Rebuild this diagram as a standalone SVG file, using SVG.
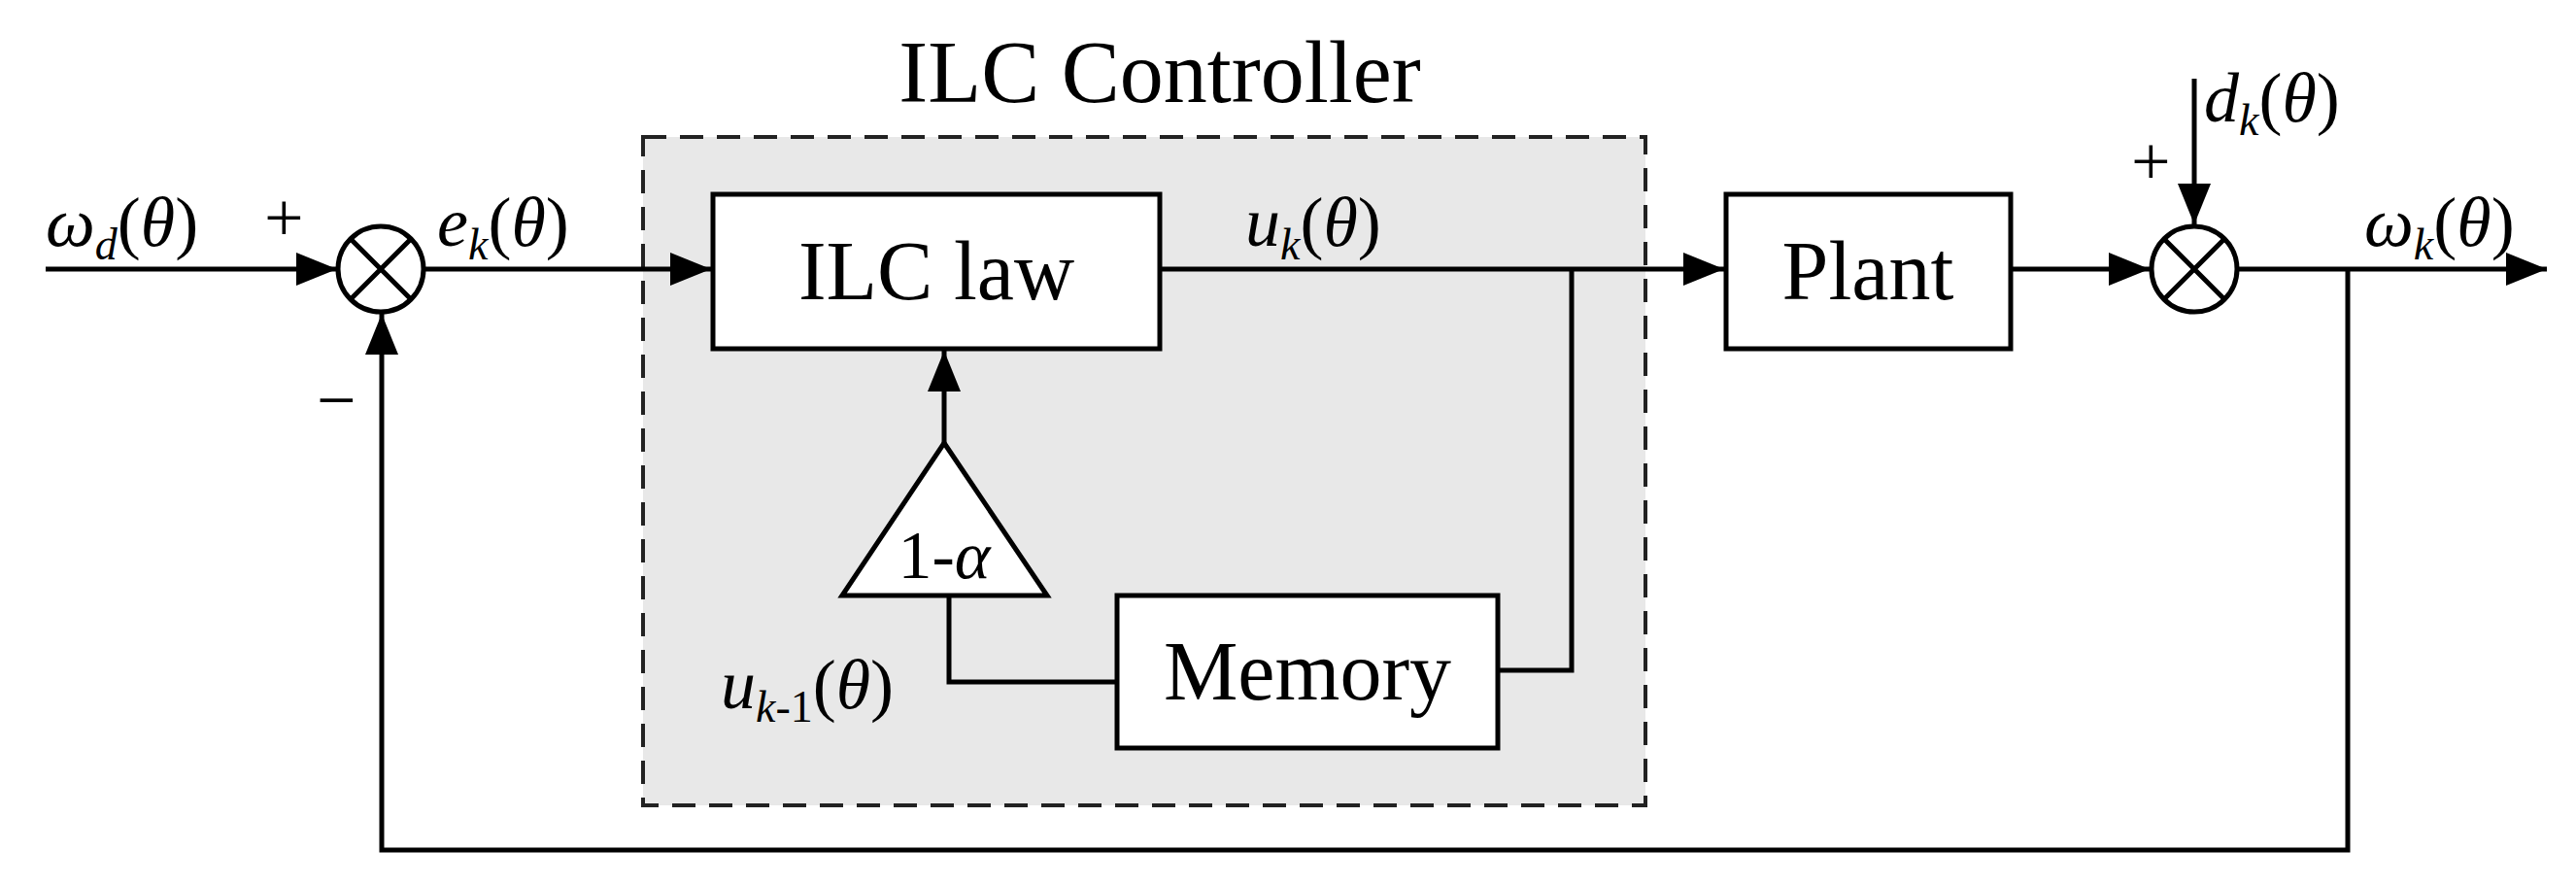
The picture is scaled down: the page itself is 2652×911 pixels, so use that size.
<svg xmlns="http://www.w3.org/2000/svg" width="2652" height="911" viewBox="0 0 2652 911">
<style>
.w{fill:none;stroke:#000;stroke-width:5}
.b{fill:#fff;stroke:#000;stroke-width:5}
.t{font-family:'Liberation Serif','Times New Roman',serif;fill:#000}
.i{font-family:'Liberation Serif','Times New Roman',serif;font-style:italic;fill:#000;font-size:72px}
</style>
<defs>
<marker id="a" markerUnits="userSpaceOnUse" markerWidth="44" markerHeight="34" refX="42" refY="17" orient="auto"><path d="M0,0 L42,17 L0,34 Z" fill="#000"/></marker>
</defs>
<rect width="2652" height="911" fill="#fff"/>
<g id="ilc-controller">
<rect x="662" y="141" width="1032" height="688" fill="#e8e8e8" stroke="#222" stroke-width="4" stroke-dasharray="24,14"/>
<text class="t" x="1194" y="105" font-size="90" text-anchor="middle">ILC Controller</text>
</g>
<g id="connectors">
<path class="w" d="M47,277 H347" marker-end="url(#a)"/>
<path class="w" d="M436,277 H732" marker-end="url(#a)"/>
<path class="w" d="M1194,277 H1775" marker-end="url(#a)"/>
<path class="w" d="M972,456 V361" marker-end="url(#a)"/>
<path class="w" d="M977,613 V702 H1150"/>
<path class="w" d="M1542,690 H1618 V277"/>
<path class="w" d="M2070,277 H2213" marker-end="url(#a)"/>
<path class="w" d="M2259,81 V231" marker-end="url(#a)"/>
<path class="w" d="M2303,277 H2622" marker-end="url(#a)"/>
<path class="w" d="M2417,277 V875 H393 V323" marker-end="url(#a)"/>
</g>
<g id="sum1">
<circle class="b" cx="392" cy="277" r="44"/>
<path class="w" d="M361,246 L423,308 M423,246 L361,308"/>
</g>
<g id="sum2">
<circle class="b" cx="2259" cy="277" r="44"/>
<path class="w" d="M2228,246 L2290,308 M2290,246 L2228,308"/>
</g>
<g id="ilc-law">
<rect class="b" x="734" y="200" width="460" height="159"/>
<text class="t" x="964" y="308" font-size="86" text-anchor="middle">ILC law</text>
</g>
<g id="gain">
<path class="b" d="M972,456 L1078,613 L867,613 Z"/>
<text class="t" x="972" y="595" font-size="70" text-anchor="middle">1-<tspan font-style="italic">α</tspan></text>
</g>
<g id="memory">
<rect class="b" x="1150" y="613" width="392" height="157"/>
<text class="t" x="1346" y="720" font-size="86" text-anchor="middle">Memory</text>
</g>
<g id="plant">
<rect class="b" x="1777" y="200" width="293" height="159"/>
<text class="t" x="1923" y="308" font-size="86" text-anchor="middle">Plant</text>
</g>
<g id="labels">
<text class="i" x="47" y="253">ω<tspan font-size="46" dy="14">d</tspan><tspan dy="-14" font-style="normal">(</tspan>θ<tspan font-style="normal">)</tspan></text>
<text class="t" x="272" y="248" font-size="72">+</text>
<text class="i" x="450" y="253">e<tspan font-size="46" dy="14">k</tspan><tspan dy="-14" font-style="normal">(</tspan>θ<tspan font-style="normal">)</tspan></text>
<text class="i" x="1282" y="253">u<tspan font-size="46" dy="14">k</tspan><tspan dy="-14" font-style="normal">(</tspan>θ<tspan font-style="normal">)</tspan></text>
<text class="i" x="742" y="729">u<tspan font-size="46" dy="14">k</tspan><tspan font-size="46" font-style="normal">-1</tspan><tspan dy="-14" font-style="normal">(</tspan>θ<tspan font-style="normal">)</tspan></text>
<text class="t" x="326" y="436" font-size="72">−</text>
<text class="i" x="2269" y="125">d<tspan font-size="46" dy="14">k</tspan><tspan dy="-14" font-style="normal">(</tspan>θ<tspan font-style="normal">)</tspan></text>
<text class="t" x="2194" y="190" font-size="72">+</text>
<text class="i" x="2434" y="253">ω<tspan font-size="46" dy="14">k</tspan><tspan dy="-14" font-style="normal">(</tspan>θ<tspan font-style="normal">)</tspan></text>
</g>
</svg>
